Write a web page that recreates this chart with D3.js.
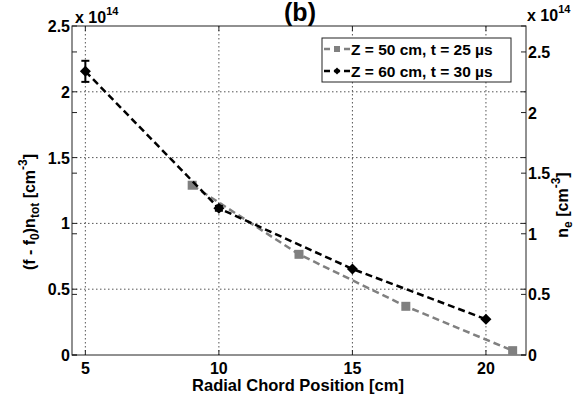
<!DOCTYPE html>
<html><head><meta charset="utf-8">
<script src="https://cdn.jsdelivr.net/npm/d3@7"></script>
<style>
body{margin:0;background:#fff;}
text{font-family:"Liberation Sans",Arial,sans-serif;font-weight:bold;fill:#000;}
</style></head>
<body>
<svg id="c" width="578" height="402"></svg>
<script>
// Data
const grayX = [9, 13, 17, 21];
const grayY = [1.29, 0.765, 0.37, 0.033];          // left axis
const blackX = [5, 10, 15, 20];
const blackY = [2.34, 1.21, 0.71, 0.295];          // right axis
const blackErr = [0.087, 0.02, 0, 0];
const xTicks = [5, 10, 15, 20];
const leftTicks = [0, 0.5, 1, 1.5, 2, 2.5];
const rightTicks = [0, 0.5, 1, 1.5, 2, 2.5];
const legendLabels = ["Z = 50 cm, t = 25 \u00b5s", "Z = 60 cm, t = 30 \u00b5s"];

const svg = d3.select("#c");
const L = 72, R = 526, T = 26, B = 355;
const x = d3.scaleLinear().domain([4.5, 21.5]).range([L, R]);
const yL = d3.scaleLinear().domain([0, 2.5]).range([B, T]);
const yR = d3.scaleLinear().domain([0, 2.714]).range([B, T]);
const dia = r => `M0,${-r}L${r},0L0,${r}L${-r},0Z`;

// grid
const g = svg.append("g");
xTicks.forEach(t => g.append("line").attr("x1", x(t)).attr("x2", x(t)).attr("y1", T).attr("y2", B)
  .attr("stroke", "#555").attr("stroke-width", 1).attr("stroke-dasharray", "1.5,2.5"));
leftTicks.filter(t => t > 0 && t < 2.5).forEach(t => g.append("line").attr("x1", L).attr("x2", R).attr("y1", yL(t)).attr("y2", yL(t))
  .attr("stroke", "#555").attr("stroke-width", 1).attr("stroke-dasharray", "1.5,2.5"));

// box
svg.append("rect").attr("x", L).attr("y", T).attr("width", R - L).attr("height", B - T)
  .attr("fill", "none").attr("stroke", "#222").attr("stroke-width", 1);

const tk = 5, fs = 16;
// ticks
xTicks.forEach(t => {
  svg.append("line").attr("x1", x(t)).attr("x2", x(t)).attr("y1", B).attr("y2", B - tk).attr("stroke", "#222");
  svg.append("line").attr("x1", x(t)).attr("x2", x(t)).attr("y1", T).attr("y2", T + tk).attr("stroke", "#222");
  svg.append("text").attr("x", x(t)).attr("y", 374).attr("text-anchor", "middle").attr("font-size", fs).text(t);
});
leftTicks.forEach(t => {
  svg.append("line").attr("x1", L).attr("x2", L + tk).attr("y1", yL(t)).attr("y2", yL(t)).attr("stroke", "#222");
  svg.append("line").attr("x1", R).attr("x2", R - tk).attr("y1", yL(t)).attr("y2", yL(t)).attr("stroke", "#222");
  svg.append("text").attr("x", L - 2).attr("y", yL(t) + 6).attr("text-anchor", "end").attr("font-size", fs).text(t);
});
rightTicks.forEach(t => {
  svg.append("line").attr("x1", R).attr("x2", R - tk).attr("y1", yR(t)).attr("y2", yR(t)).attr("stroke", "#222");
  svg.append("line").attr("x1", L).attr("x2", L + tk).attr("y1", yR(t)).attr("y2", yR(t)).attr("stroke", "#222");
  svg.append("text").attr("x", R + 2).attr("y", yR(t) + 6).attr("text-anchor", "start").attr("font-size", fs).text(t);
});

// exponent labels
const e1 = svg.append("text").attr("x", 75).attr("y", 23).attr("font-size", fs);
e1.append("tspan").text("x 10");
e1.append("tspan").attr("dy", -8).attr("font-size", 11).text("14");
const e2 = svg.append("text").attr("x", 527).attr("y", 21).attr("font-size", fs);
e2.append("tspan").text("x 10");
e2.append("tspan").attr("dy", -8).attr("font-size", 11).text("14");

// title
svg.append("text").attr("x", 300).attr("y", 21).attr("text-anchor", "middle").attr("font-size", 25).text("(b)");

// axis labels
svg.append("text").attr("x", 298).attr("y", 391).attr("text-anchor", "middle").attr("font-size", 16.5).text("Radial Chord Position [cm]");
const yl = svg.append("text").attr("transform", "translate(35,212) rotate(-90)").attr("text-anchor", "middle").attr("font-size", 16);
yl.append("tspan").text("(f - f");
yl.append("tspan").attr("dy", 4).attr("font-size", 12).text("0");
yl.append("tspan").attr("dy", -4).text(")n");
yl.append("tspan").attr("dy", 4).attr("font-size", 12).text("tot");
yl.append("tspan").attr("dy", -4).text(" [cm");
yl.append("tspan").attr("dy", -8).attr("font-size", 12).text("-3");
yl.append("tspan").attr("dy", 8).text("]");
const yr = svg.append("text").attr("transform", "translate(568,205) rotate(-90)").attr("text-anchor", "middle").attr("font-size", 16);
yr.append("tspan").text("n");
yr.append("tspan").attr("dy", 4).attr("font-size", 12).text("e");
yr.append("tspan").attr("dy", -4).text(" [cm");
yr.append("tspan").attr("dy", -8).attr("font-size", 12).text("-3");
yr.append("tspan").attr("dy", 8).text("]");

// series
const grayPts = grayX.map((v, i) => [v, grayY[i]]);
const blackPts = blackX.map((v, i) => [v, blackY[i], blackErr[i]]);
svg.append("path").datum(grayPts)
  .attr("d", d3.line().x(d => x(d[0])).y(d => yL(d[1])))
  .attr("fill", "none").attr("stroke", "#808080").attr("stroke-width", 2.5).attr("stroke-dasharray", "7,4");
svg.selectAll(".sq").data(grayPts).enter().append("rect")
  .attr("x", d => x(d[0]) - 4.5).attr("y", d => yL(d[1]) - 4.5).attr("width", 9).attr("height", 9).attr("fill", "#808080");

svg.append("path").datum(blackPts)
  .attr("d", d3.line().x(d => x(d[0])).y(d => yR(d[1])))
  .attr("fill", "none").attr("stroke", "#000").attr("stroke-width", 2.5).attr("stroke-dasharray", "7,4");
blackPts.filter(d => d[2] > 0).forEach(d => {
  const cx = x(d[0]), y1 = yR(d[1] + d[2]), y2 = yR(d[1] - d[2]);
  svg.append("line").attr("x1", cx).attr("x2", cx).attr("y1", y1).attr("y2", y2).attr("stroke", "#000").attr("stroke-width", 2);
  svg.append("line").attr("x1", cx - 4).attr("x2", cx + 4).attr("y1", y1).attr("y2", y1).attr("stroke", "#000").attr("stroke-width", 2);
  svg.append("line").attr("x1", cx - 4).attr("x2", cx + 4).attr("y1", y2).attr("y2", y2).attr("stroke", "#000").attr("stroke-width", 2);
});
svg.selectAll(".dm").data(blackPts).enter().append("path")
  .attr("transform", d => `translate(${x(d[0])},${yR(d[1])})`).attr("d", dia(5.5)).attr("fill", "#000");

// legend
const lg = svg.append("g");
lg.append("rect").attr("x", 322).attr("y", 38).attr("width", 189).attr("height", 44)
  .attr("fill", "#fff").attr("stroke", "#222").attr("stroke-width", 1);
const cols = ["#808080", "#000"];
legendLabels.forEach((lab, i) => {
  const yy = 49 + i * 22;
  lg.append("line").attr("x1", 324).attr("x2", 350).attr("y1", yy).attr("y2", yy)
    .attr("stroke", cols[i]).attr("stroke-width", 2.5).attr("stroke-dasharray", "6,4");
  if (i === 0) lg.append("rect").attr("x", 334).attr("y", yy - 3).attr("width", 6).attr("height", 6).attr("fill", cols[i]);
  else lg.append("path").attr("transform", `translate(337,${yy})`).attr("d", dia(3.5)).attr("fill", "#000");
  lg.append("text").attr("x", 351).attr("y", yy + 6).attr("font-size", 15.5).text(lab);
});
</script>
</body></html>
